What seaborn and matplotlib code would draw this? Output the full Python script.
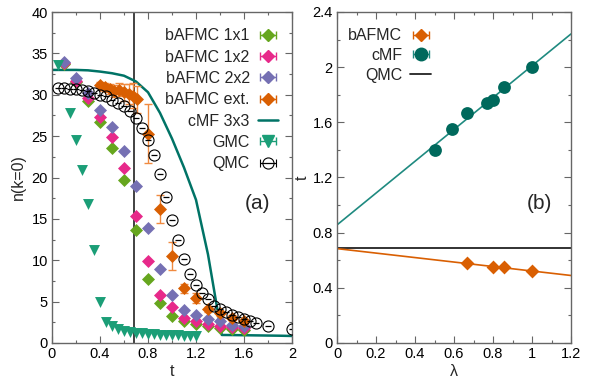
import numpy as np
import pandas as pd
import matplotlib
matplotlib.use("Agg")
import matplotlib.pyplot as plt
from matplotlib.ticker import MultipleLocator, FuncFormatter
import seaborn as sns

sns.set_theme(style="ticks")
plt.rcParams['font.family'] = ['Liberation Sans', 'DejaVu Sans']

# ---------------- data: panel (a) ----------------
t_afmc = [0.1, 0.2, 0.3, 0.4, 0.5, 0.6, 0.7, 0.8, 0.9, 1.0, 1.1, 1.2, 1.3, 1.4, 1.5, 1.6]
n_1x1 = [33.7, 31.6, 29.3, 26.7, 23.6, 19.7, 13.65, 7.7, 4.8, 3.3, 2.6, 2.25, 2.0, 1.85, 1.7, 1.6]
n_1x2 = [33.8, 31.7, 29.6, 27.35, 24.9, 21.2, 15.3, 9.95, 5.8, 4.3, 3.05, 2.65, 2.3, 2.1, 1.9, 1.8]
n_2x2 = [33.9, 32.0, 30.2, 28.2, 26.1, 23.2, 19.0, 13.9, 8.9, 5.8, 4.0, 3.4, 2.85, 2.6, 2.2, 2.05]

t_ext = [0.40, 0.44, 0.48, 0.52, 0.56, 0.60, 0.64, 0.675, 0.71, 0.8, 0.9, 1.0, 1.1, 1.2, 1.3, 1.4, 1.5, 1.6]
n_ext = [31.2, 30.95, 30.7, 30.45, 30.6, 30.3, 30.05, 29.9, 29.45, 25.3, 16.2, 10.5, 6.6, 5.4, 4.1, 3.6, 3.05, 2.6]
e_ext = [0.4, 0.5, 0.6, 0.7, 0.8, 1.0, 1.2, 1.5, 1.6, 3.6, 1.7, 1.7, 0.5, 0.6, 0.3, 0.3, 0.3, 0.3]

t_cmf = [0.0, 0.1, 0.2, 0.3, 0.4, 0.5, 0.6, 0.7, 0.8, 0.9, 1.0, 1.1, 1.2, 1.3, 1.4, 1.415, 1.5, 1.6, 1.7, 1.8, 1.9, 2.0]
n_cmf = [33.0, 33.0, 33.0, 32.95, 32.8, 32.6, 32.3, 31.6, 30.3, 27.8, 24.7, 21.2, 17.3, 10.7, 2.2, 0.97, 0.96, 0.94, 0.92, 0.9, 0.88, 0.85]

t_gmc = [0.05, 0.15, 0.2, 0.25, 0.3, 0.35, 0.4, 0.45, 0.5, 0.55, 0.6, 0.65, 0.7, 0.75, 0.8,
         0.85, 0.9, 0.95, 1.0, 1.05, 1.1, 1.15, 1.2]
n_gmc = [33.6, 27.8, 24.5, 20.9, 16.8, 11.2, 4.9, 2.5, 2.0, 1.7, 1.5, 1.35, 1.25, 1.15, 1.1,
         1.05, 1.0, 1.0, 0.95, 0.95, 0.9, 0.9, 0.9]

t_qmc = [0.05, 0.1, 0.15, 0.2, 0.25, 0.3, 0.35, 0.4, 0.45, 0.5, 0.55, 0.6, 0.65, 0.7, 0.75, 0.8,
         0.85, 0.9, 0.95, 1.0, 1.05, 1.1, 1.15, 1.2, 1.25, 1.3, 1.35, 1.4, 1.45, 1.5, 1.55,
         1.6, 1.65, 1.7, 1.8, 2.0]
n_qmc = [30.8, 30.8, 30.7, 30.7, 30.6, 30.4, 30.2, 30.0, 29.8, 29.4, 29.0, 28.6, 28.0, 27.2,
         26.0, 24.5, 22.7, 20.4, 17.7, 14.9, 12.4, 10.1, 8.3, 7.0, 6.0, 5.3, 4.5, 4.1, 3.7,
         3.4, 3.1, 2.9, 2.6, 2.4, 2.05, 1.65]

t_c = 0.686

# ---------------- data: panel (b) ----------------
lam_cmf = [0.5, 0.59, 0.667, 0.77, 0.8, 0.857, 1.0]
tc_cmf = [1.40, 1.55, 1.67, 1.74, 1.76, 1.855, 2.0]
lam_afmc = [0.665, 0.8, 0.857, 1.0]
tc_afmc = [0.578, 0.549, 0.549, 0.522]
tc_qmc = 0.686

# ---------------- colours ----------------
c_1x1 = "#66a61e"
c_1x2 = "#e7298a"
c_2x2 = "#7570b3"
c_ext = "#d95f02"
c_cmf = "#007366"
c_gmc = "#1b9e77"
c_cmf_b = "#00695c"
c_fit_b = "#1f8a80"
spine_c = "#666666"

fig = plt.figure(figsize=(5.95, 3.86), dpi=100)
axa = fig.add_axes([52/595, 43/386, 240/595, 331/386])
axb = fig.add_axes([337/595, 43/386, 234/595, 331/386])

FS = 10.5

# ---------- panel (a) ----------
axa.axvline(t_c, color="#333333", lw=1.3, zorder=1)
sns.lineplot(x=t_cmf, y=n_cmf, ax=axa, color=c_cmf, lw=1.8, sort=False, zorder=2, legend=False)

ms_d = 44
for tt, nn, cc in [(t_afmc, n_1x1, c_1x1), (t_afmc, n_1x2, c_1x2), (t_afmc, n_2x2, c_2x2)]:
    sns.scatterplot(x=tt, y=nn, ax=axa, color=cc, marker="D", s=ms_d, linewidth=0, zorder=3, legend=False)

axa.errorbar(t_ext, n_ext, yerr=e_ext, fmt="none", ecolor="#f08a40", elinewidth=1.0, capsize=3, zorder=3)
sns.scatterplot(x=t_ext, y=n_ext, ax=axa, color=c_ext, marker="D", s=ms_d, linewidth=0, zorder=4, legend=False)

sns.scatterplot(x=t_gmc, y=n_gmc, ax=axa, color=c_gmc, marker="v", s=62, linewidth=0, zorder=3, legend=False)

axa.errorbar(t_qmc, n_qmc, xerr=0.025, fmt="none", ecolor="black", elinewidth=0.9, capsize=0, zorder=5)
axa.plot(t_qmc, n_qmc, linestyle="none", marker="o", ms=8, mfc="none", mec="black", mew=0.8, zorder=5)

# legend proxies (xmgrace-like: horizontal error bar)
nan = [np.nan]
h = []
h.append(axa.errorbar(nan, nan, xerr=[1], fmt="D", color=c_1x1, ms=6.5, capsize=3, elinewidth=1, label="bAFMC 1x1"))
h.append(axa.errorbar(nan, nan, xerr=[1], fmt="D", color=c_1x2, ms=6.5, capsize=3, elinewidth=1, label="bAFMC 1x2"))
h.append(axa.errorbar(nan, nan, xerr=[1], fmt="D", color=c_2x2, ms=6.5, capsize=3, elinewidth=1, label="bAFMC 2x2"))
h.append(axa.errorbar(nan, nan, xerr=[1], fmt="D", color=c_ext, ms=6.5, capsize=3, elinewidth=1, label="bAFMC ext."))
h.append(axa.plot(nan, nan, color=c_cmf, lw=1.8, label="cMF 3x3")[0])
h.append(axa.errorbar(nan, nan, xerr=[1], fmt="v", color=c_gmc, ms=8, capsize=3, elinewidth=1, label="GMC"))
h.append(axa.errorbar(nan, nan, xerr=[1], fmt="o", color="black", mfc="none", ms=8, mew=0.8, capsize=3, elinewidth=0.9, label="QMC"))
axa.legend(handles=h, loc="upper right", bbox_to_anchor=(0.99, 0.985), frameon=False, markerfirst=False,
           fontsize=FS + 1, handlelength=1.3, handletextpad=0.5, labelspacing=0.4, borderpad=0.2)

axa.set_xlim(0, 2)
axa.set_ylim(0, 40)
axa.xaxis.set_major_locator(MultipleLocator(0.4))
axa.xaxis.set_minor_locator(MultipleLocator(0.2))
axa.yaxis.set_major_locator(MultipleLocator(5))
axa.yaxis.set_minor_locator(MultipleLocator(2.5))
axa.set_xlabel("t", fontsize=FS + 1, labelpad=2)
axa.set_ylabel("n(k=0)", fontsize=FS + 1, labelpad=4)
axa.text(1.71, 16.9, "(a)", fontsize=15, ha="center", va="center")

# ---------- panel (b) ----------
lam_line = np.array([0.0, 1.2])
p_cmf = np.polyfit(lam_cmf, tc_cmf, 1)
p_afmc = np.polyfit(lam_afmc, tc_afmc, 1)
sns.lineplot(x=lam_line, y=np.polyval(p_cmf, lam_line), ax=axb, color=c_fit_b, lw=1.2, zorder=2, legend=False)
sns.lineplot(x=lam_line, y=np.polyval(p_afmc, lam_line), ax=axb, color=c_ext, lw=1.2, zorder=2, legend=False)
axb.axhline(tc_qmc, color="#222222", lw=1.3, zorder=1)
sns.scatterplot(x=lam_cmf, y=tc_cmf, ax=axb, color=c_cmf_b, marker="o", s=85, linewidth=0, zorder=3, legend=False)
sns.scatterplot(x=lam_afmc, y=tc_afmc, ax=axb, color=c_ext, marker="D", s=50, linewidth=0, zorder=3, legend=False)

hb = []
hb.append(axb.errorbar(nan, nan, xerr=[1], fmt="D", color=c_ext, ms=6.5, capsize=3, elinewidth=1, label="bAFMC"))
hb.append(axb.errorbar(nan, nan, xerr=[1], fmt="o", color=c_cmf_b, ecolor=c_fit_b, ms=9, capsize=3, elinewidth=1, label="cMF"))
hb.append(axb.plot(nan, nan, color="#222222", lw=1.3, label="QMC")[0])
axb.legend(handles=hb, loc="upper left", bbox_to_anchor=(0.0, 0.985), frameon=False, markerfirst=False,
           fontsize=FS + 1, handlelength=1.3, handletextpad=0.5, labelspacing=0.3, borderpad=0.2)

axb.set_xlim(0, 1.2)
axb.set_ylim(0, 2.4)
axb.xaxis.set_major_locator(MultipleLocator(0.2))
axb.xaxis.set_minor_locator(MultipleLocator(0.1))
axb.yaxis.set_major_locator(MultipleLocator(0.4))
axb.yaxis.set_minor_locator(MultipleLocator(0.2))
axb.set_xlabel("λ", fontsize=FS + 1, labelpad=2)
axb.set_ylabel("t", fontsize=FS + 1, labelpad=2)
axb.text(1.036, 1.015, "(b)", fontsize=15, ha="center", va="center")

fmt = FuncFormatter(lambda v, p: ("%g" % round(v, 6)))
for ax in (axa, axb):
    ax.xaxis.set_major_formatter(fmt)
    ax.yaxis.set_major_formatter(fmt)
    ax.tick_params(which="both", direction="in", top=True, right=True, colors="black",
                   labelsize=FS, pad=3)
    ax.tick_params(which="major", length=5, width=0.8, color=spine_c)
    ax.tick_params(which="minor", length=2.5, width=0.8, color=spine_c)
    for s in ax.spines.values():
        s.set_color(spine_c)
        s.set_linewidth(1.0)
    ax.set_facecolor("white")

fig.savefig("out.png", dpi=100)
